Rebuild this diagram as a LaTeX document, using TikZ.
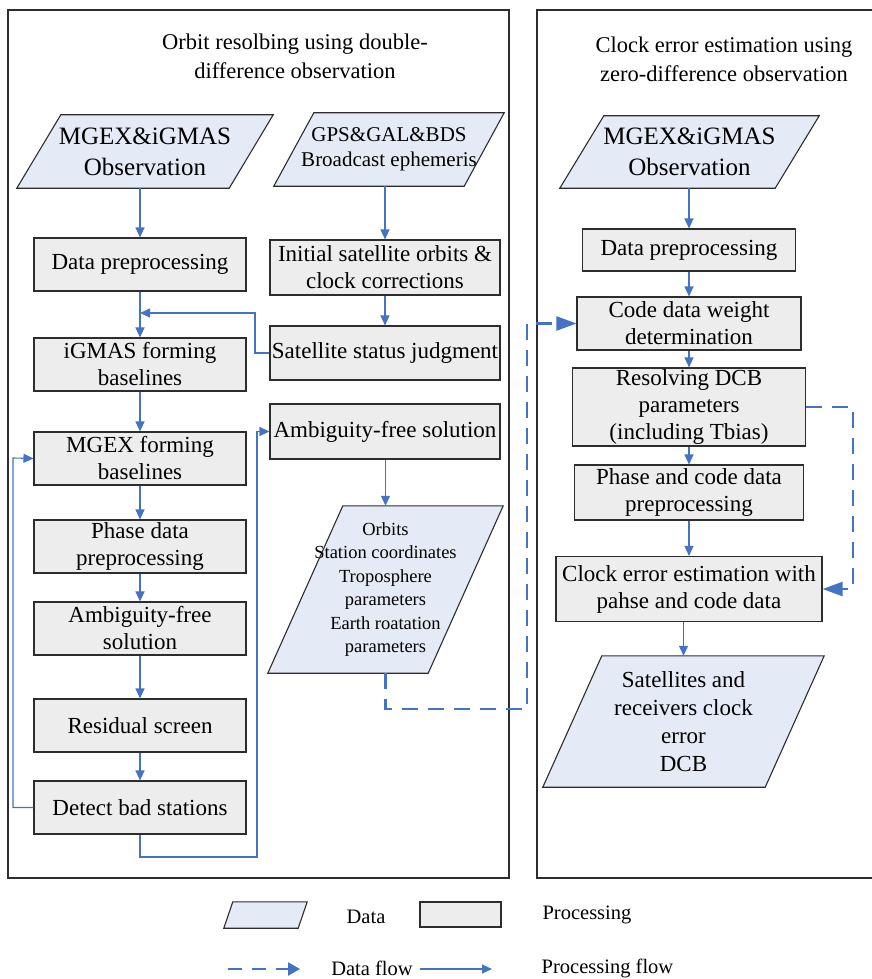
\documentclass[tikz,border=0pt]{standalone}
\usepackage{fontspec}
\setmainfont{Liberation Serif}
\usepackage{tikz}
\usetikzlibrary{arrows.meta,backgrounds}

\definecolor{flowblue}{RGB}{68,114,196}
\definecolor{datafill}{RGB}{229,235,246}
\definecolor{procfill}{RGB}{236,237,236}
\definecolor{edgegray}{RGB}{45,45,45}

\tikzset{
  procbox/.style={rectangle, draw=edgegray, line width=1.1pt, fill=procfill,
    inner sep=0pt, align=center, font=\fontsize{23}{27}\selectfont},
  % text area of a data node, the slanted outline is drawn behind it
  datashape/.style={rectangle, inner sep=0pt, align=center},
  paraline/.style={draw=edgegray, line width=1.1pt, fill=datafill, line join=miter},
  flow/.style={draw=flowblue, line width=1.1pt, -{Triangle[length=10pt,width=9pt]}},
  dflow/.style={draw=flowblue, line width=2.2pt, dash pattern=on 16pt off 10pt,
    -{Triangle[length=20pt,width=14pt]}},
  panel/.style={draw=edgegray, line width=1.2pt},
  titletxt/.style={align=center, font=\fontsize{22.5}{29}\selectfont},
  legtxt/.style={font=\fontsize{20.5}{24}\selectfont}
}

\begin{document}
\begin{tikzpicture}[x=1pt,y=-1pt]
  \useasboundingbox (0,0) rectangle (872,979);
  % Panels
  \draw[panel] (8,10) rectangle (509,878);
  \draw[panel] (537,10) rectangle (885,878);
  \node[titletxt] (ttlL) at (295,56) {Orbit resolbing using double-\\difference observation};
  \node[titletxt] (ttlR) at (724,59) {Clock error estimation using\\zero-difference observation};

  % Nodes: orbit part
  \node[datashape, minimum width=256pt, minimum height=73pt,
    font=\fontsize{25}{31}\selectfont] (obsL) at (145,151.5) {MGEX\&iGMAS\\Observation};
  \node[datashape, minimum width=230pt, minimum height=73pt,
    font=\fontsize{21}{25}\selectfont] (gps) at (389,149.5) {GPS\&GAL\&BDS\\Broadcast ephemeris};
  \node[procbox, minimum width=212pt, minimum height=53pt] (dpL) at (140,264.5) {Data preprocessing};
  \node[procbox, minimum width=212pt, minimum height=53pt] (igm) at (140,364.5) {iGMAS forming\\baselines};
  \node[procbox, minimum width=212pt, minimum height=53pt] (mgx) at (140,458.5) {MGEX forming\\baselines};
  \node[procbox, minimum width=212pt, minimum height=53pt] (pdp) at (140,546.5) {Phase data\\preprocessing};
  \node[procbox, minimum width=212pt, minimum height=53pt] (afL) at (140,628.5) {Ambiguity-free\\solution};
  \node[procbox, minimum width=212pt, minimum height=53pt] (res) at (140,725.5) {Residual screen};
  \node[procbox, minimum width=212pt, minimum height=53pt] (dbs) at (140,807.5) {Detect bad stations};
  \node[procbox, minimum width=230pt, minimum height=55pt] (ini) at (385,267.5) {Initial satellite orbits \&\\clock corrections};
  \node[procbox, minimum width=230pt, minimum height=54pt] (ssj) at (385,353) {Satellite status judgment};
  \node[procbox, minimum width=230pt, minimum height=55pt] (afR) at (385,431.5) {Ambiguity-free solution};
  \node[datashape, minimum width=235pt, minimum height=167pt,
    font=\fontsize{18.5}{23.5}\selectfont] (orb) at (385.5,589.5)
    {Orbits\\Station coordinates\\Troposphere\\parameters\\Earth roatation\\parameters};

  % Nodes: clock part
  \node[datashape, minimum width=259pt, minimum height=72pt,
    font=\fontsize{25}{31}\selectfont] (obsR) at (689.5,152) {MGEX\&iGMAS\\Observation};
  \node[procbox, minimum width=213pt, minimum height=42pt] (dpR) at (689,250) {Data preprocessing};
  \node[procbox, minimum width=224pt, minimum height=53pt] (cdw) at (689,323.5) {Code data weight\\determination};
  \node[procbox, minimum width=233pt, minimum height=78pt] (dcb) at (689,407) {Resolving DCB\\parameters\\(including Tbias)};
  \node[procbox, minimum width=229pt, minimum height=55pt] (pcd) at (689,492.5) {Phase and code data\\preprocessing};
  \node[procbox, minimum width=266pt, minimum height=65pt] (clk) at (689,589) {Clock error estimation with\\pahse and code data};
  \node[datashape, minimum width=281pt, minimum height=131pt,
    font=\fontsize{23}{28}\selectfont] (sat) at (683.5,721.5)
    {Satellites and\\receivers clock\\error\\DCB};

  % Legend
  \node[datashape, minimum width=83pt, minimum height=26pt] (lgD) at (265.5,915) {};
  \node[legtxt] (lgDt) at (366,917) {Data};
  \node[procbox, minimum width=81pt, minimum height=25pt] (lgP) at (460.5,914.5) {};
  \node[legtxt] (lgPt) at (587,915) {Processing};

  % Slanted outlines of the data nodes
  \begin{scope}[on background layer]
    \foreach \n/\s in {obsL/44, gps/40, orb/75, obsR/44, sat/59, lgD/9}
      \draw[paraline] ([xshift=\s pt]\n.north west) -- (\n.north east)
        -- ([xshift=-\s pt]\n.south east) -- (\n.south west) -- cycle;
  \end{scope}

  % Bends
  \coordinate (f1) at (255,313);
  \coordinate (f2) at (13,458);
  \coordinate (f3) at (257,857);
  \coordinate (d1) at (527,709);
  \coordinate (d2) at (853,589);

  % Edges
  \draw[flow] (obsL.south -| dpL) -- (dpL);
  \draw[flow] (dpL) -- (igm);
  \draw[flow] (igm) -- (mgx);
  \draw[flow] (mgx) -- (pdp);
  \draw[flow] (pdp) -- (afL);
  \draw[flow] (afL) -- (res);
  \draw[flow] (res) -- (dbs);
  \draw[flow] (gps.south -| ini) -- (ini);
  \draw[flow] (ini) -- (ssj);
  \draw[flow] (ssj.west) -| (f1) -- (f1 -| dpL);
  \draw[flow] (dbs.west) -| (f2) -- (mgx.west);
  \draw[flow] (dbs.south) |- (f3) |- (afR);
  \draw[flow] (afR.south -| orb) -- (orb);
  \draw[flow] (obsR.south -| dpR) -- (dpR);
  \draw[flow] (dpR) -- (cdw);
  \draw[flow] (cdw) -- (dcb);
  \draw[flow] (dcb) -- (pcd);
  \draw[flow] (pcd) -- (clk);
  \draw[flow] (clk.south -| sat) -- (sat);
  \draw[dflow] (orb.south) |- (d1) |- (cdw);
  \draw[dflow] (dcb.east) -| (d2) -- (clk.east);

  % Legend arrows
  \coordinate (l1) at (228,969);
  \coordinate (l2) at (300,969);
  \coordinate (l3) at (420,969);
  \coordinate (l4) at (492,969);
  \draw[dflow, dash pattern=on 14pt off 10pt, -{Triangle[length=12pt,width=13pt]}] (l1) -- (l2);
  \node[legtxt] (lgDf) at (372,968) {Data flow};
  \draw[flow] (l3) -- (l4);
  \node[legtxt] (lgPf) at (607.5,968) {Processing flow};
\end{tikzpicture}
\end{document}
